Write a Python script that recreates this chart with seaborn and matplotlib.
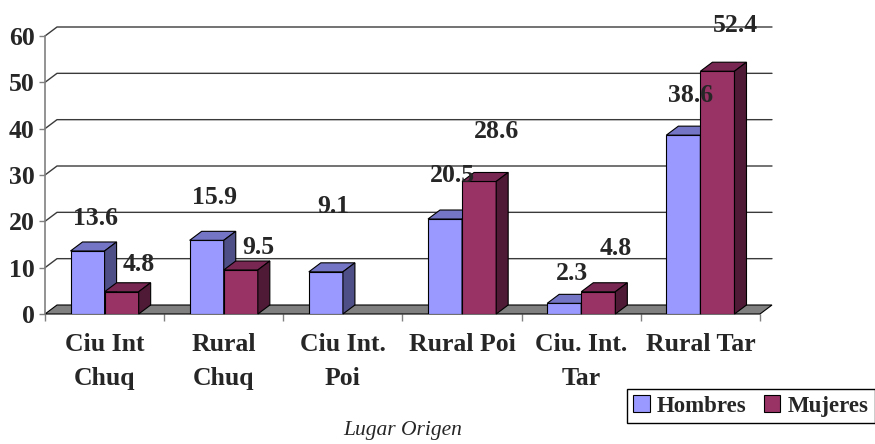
import numpy as np
import pandas as pd

import matplotlib
matplotlib.use('Agg')
import matplotlib.pyplot as plt
from matplotlib.patches import Polygon, Patch
import seaborn as sns

sns.set_theme(style="white")
plt.rcParams['font.family'] = ['Liberation Serif', 'DejaVu Serif']

# ---------------------------------------------------------------
# data
categorias = ['Ciu Int\nChuq', 'Rural\nChuq', 'Ciu Int.\nPoi',
              'Rural Poi', 'Ciu. Int.\nTar', 'Rural Tar']
hombres = [13.6, 15.9, 9.1, 20.5, 2.3, 38.6]
mujeres = [4.8, 9.5, np.nan, 28.6, 4.8, 52.4]
series = ['Hombres', 'Mujeres']
yticks = [0, 10, 20, 30, 40, 50, 60]

# where the data labels sit (value units), as in the original chart
label_y_h = [20.7, 25.2, 23.3, 30.0, 8.8, 47.2]
label_y_m = [10.6, 14.4, np.nan, 39.4, 14.2, 62.3]
label_dx = {'Hombres': -0.08, 'Mujeres': 0.29}

# colours: front, top, side
colores = {
    'Hombres': ('#9999FF', '#7575C6', '#4F4F88'),
    'Mujeres': ('#993366', '#772752', '#4E1A35'),
}

df = pd.DataFrame({
    'lugar': categorias * 2,
    'sexo': ['Hombres'] * len(categorias) + ['Mujeres'] * len(categorias),
    'valor': hombres + mujeres,
}).dropna()

# ---------------------------------------------------------------
W, H = 875, 444
fig = plt.figure(figsize=(W / 100, H / 100), dpi=100)
ax = fig.add_axes([45 / W, 130 / H, 715 / W, 278 / H])

sns.barplot(data=df, x='lugar', y='valor', hue='sexo', order=categorias,
            hue_order=series, palette=[colores[s][0] for s in series],
            width=0.572, saturation=1, edgecolor='black', linewidth=0.8,
            legend=False, ax=ax)

ax.set_xlim(-0.5, len(categorias) - 0.5)
ax.set_ylim(0, 60)

# depth offset of the fake 3d look, 12 px right and 9 px up
dx = 12 * (len(categorias)) / 715
dy = 9 * 60 / 278

# floor
x0, x1 = -0.5, len(categorias) - 0.5
ax.add_patch(Polygon([(x0, 0), (x1, 0), (x1 + dx, dy), (x0 + dx, dy)],
                     closed=True, fc='#808080', ec='black', lw=0.8,
                     zorder=0.6, clip_on=False))

# gridlines on the back wall
for v in yticks[1:]:
    ax.plot([x0, x0 + dx, x1 + dx], [v, v + dy, v + dy], color='#3a3a3a',
            lw=1.0, zorder=0.5, clip_on=False)

# top and side faces of every bar
for k, (s, cont) in enumerate(zip(series, ax.containers)):
    z = 2 + k
    for bar in cont:
        bx, bw, bh = bar.get_x(), bar.get_width(), bar.get_height()
        if np.isnan(bh):
            continue
        bar.set_zorder(z)
        top = [(bx, bh), (bx + bw, bh), (bx + bw + dx, bh + dy), (bx + dx, bh + dy)]
        side = [(bx + bw, 0), (bx + bw, bh), (bx + bw + dx, bh + dy), (bx + bw + dx, dy)]
        ax.add_patch(Polygon(top, closed=True, fc=colores[s][1], ec='black',
                             lw=0.8, zorder=z, clip_on=False))
        ax.add_patch(Polygon(side, closed=True, fc=colores[s][2], ec='black',
                             lw=0.8, zorder=z, clip_on=False))

# data labels
for s, vals, ys in [('Hombres', hombres, label_y_h), ('Mujeres', mujeres, label_y_m)]:
    for i, (v, yl) in enumerate(zip(vals, ys)):
        if np.isnan(v):
            continue
        ax.text(i + label_dx[s], yl, f'{v:.1f}', ha='center', va='center',
                fontsize=18.5, fontweight='bold', zorder=6, clip_on=False)

# axes
for sp in ['top', 'right', 'bottom']:
    ax.spines[sp].set_visible(False)
ax.spines['left'].set_color('#808080')
ax.spines['left'].set_linewidth(1.2)

ax.set_yticks(yticks)
ax.set_yticklabels([str(t) for t in yticks], fontsize=18.5, fontweight='bold')
ax.tick_params(axis='y', left=True, length=4.5, width=1, color='#808080',
               direction='out', pad=3)

ax.set_xticks(range(len(categorias)))
ax.set_xticklabels(categorias, fontsize=18.5, fontweight='bold', linespacing=1.6)
ax.set_xticks(np.arange(-0.5, len(categorias), 1), minor=True)
ax.tick_params(axis='x', which='major', bottom=True, length=0, pad=14)
ax.tick_params(axis='x', which='minor', bottom=True, length=5, width=1,
               color='#808080', direction='out')
ax.set_ylabel('')
ax.set_xlabel('Lugar Origen', fontsize=15.5, fontstyle='italic', va='center')
ax.xaxis.set_label_coords(0.5, (314 - 431) / 278)

handles = [Patch(fc=colores[s][0], ec='black', lw=0.8, label=s) for s in series]
leg = fig.legend(handles=handles, loc='center right', ncol=2,
                 bbox_to_anchor=(875 / W, 1 - 406 / H),
                 frameon=True, fancybox=False, framealpha=1, edgecolor='black',
                 prop={'size': 16.5, 'weight': 'bold'}, handlelength=0.7,
                 handleheight=0.7, handletextpad=0.3, columnspacing=0.8,
                 borderpad=0.3, borderaxespad=0)
leg.get_frame().set_linewidth(1.0)

fig.savefig('out.png', dpi=100)
